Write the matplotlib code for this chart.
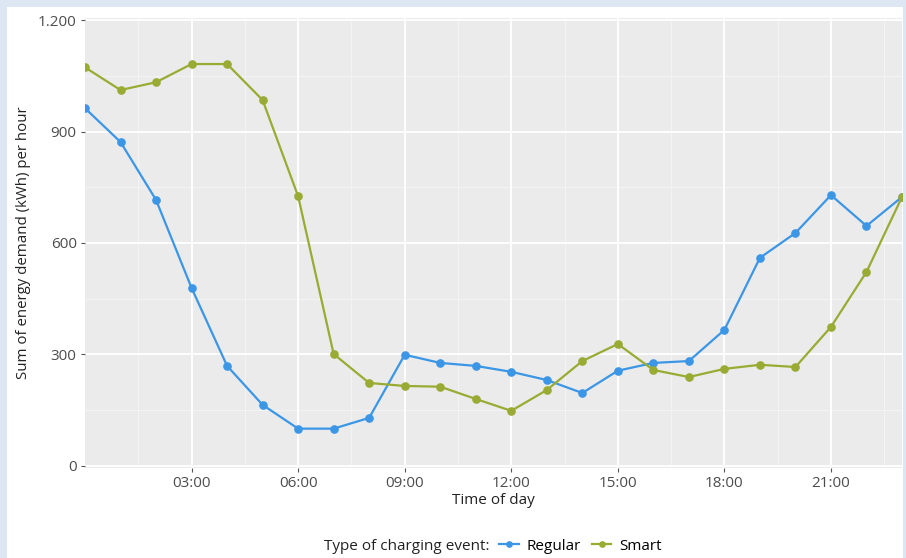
import numpy as np
import matplotlib.pyplot as plt
from matplotlib.lines import Line2D
from matplotlib.patches import Rectangle

plt.rcParams['font.family'] = ['Open Sans', 'DejaVu Sans']

hours = list(range(24))
regular = [963, 872, 716, 479, 269, 164, 100, 100, 129, 299, 277, 269,
           253, 231, 196, 256, 277, 282, 366, 560, 627, 729, 646, 724]
smart = [1073, 1012, 1033, 1082, 1082, 985, 726, 301, 223, 215, 213, 180,
         148, 204, 282, 328, 258, 239, 261, 272, 266, 374, 522, 724]
xtick_hours = [3, 6, 9, 12, 15, 18, 21]
xtick_labels = ["03:00", "06:00", "09:00", "12:00", "15:00", "18:00", "21:00"]
yticks = [0, 300, 600, 900, 1200]
ytick_labels = ["0", "300", "600", "900", "1.200"]

c_reg = "#3b96e6"
c_smart = "#99ab32"

W, H = 906, 558
fig = plt.figure(figsize=(W / 100, H / 100), dpi=100, facecolor="#dde7f3")
# white card behind everything
fig.patches.append(Rectangle((7 / W, 0), (903 - 7) / W, (H - 7) / H,
                             transform=fig.transFigure, facecolor="white",
                             edgecolor="none", zorder=-10))

ax = fig.add_axes([85 / W, (H - 468) / H, (902 - 85) / W, (468 - 18) / H])
ax.set_facecolor("#ebebeb")
for s in ax.spines.values():
    s.set_visible(False)

# grid
for v in [150, 450, 750, 1050]:
    ax.axhline(v, color="#f5f5f5", lw=0.6, zorder=0)
for v in [1.5, 4.5, 7.5, 10.5, 13.5, 16.5, 19.5, 22.5]:
    ax.axvline(v, color="#f5f5f5", lw=0.6, zorder=0)
for v in yticks:
    ax.axhline(v, color="white", lw=1.3, zorder=0)
for v in xtick_hours:
    ax.axvline(v, color="white", lw=1.3, zorder=0)

ax.plot(hours, regular, color=c_reg, lw=1.6, marker="o", ms=5.2, zorder=3)
ax.plot(hours, smart, color=c_smart, lw=1.6, marker="o", ms=5.2, zorder=3)

ax.set_xlim(0, 23)
ax.set_ylim(-6, 1206)
ax.set_xticks(xtick_hours)
ax.set_xticklabels(xtick_labels)
ax.set_yticks(yticks)
ax.set_yticklabels(ytick_labels)
ax.tick_params(axis="both", colors="#555555", labelcolor="#4d4d4d",
               labelsize=11, length=3, width=0.8, pad=3)

ax.set_xlabel("Time of day", fontsize=11, color="#222222", labelpad=1)
ax.set_ylabel("Sum of energy demand (kWh) per hour", fontsize=10.8,
              color="#222222", labelpad=5)

handles = [Line2D([], [], color=c_reg, lw=1.6, marker="o", ms=3.8),
           Line2D([], [], color=c_smart, lw=1.6, marker="o", ms=3.8)]
leg = fig.legend(handles, ["Regular", "Smart"], loc="center left",
                 bbox_to_anchor=(499 / W, 1 - 546 / H), ncol=2, frameon=False,
                 fontsize=11, handlelength=1.3, handletextpad=0.5,
                 columnspacing=0.7, borderaxespad=0, borderpad=0)
fig.text(489 / W, 1 - 546 / H, "Type of charging event:", ha="right",
         va="center", fontsize=11, color="#222222")

fig.savefig("out.png", dpi=100, facecolor=fig.get_facecolor())
